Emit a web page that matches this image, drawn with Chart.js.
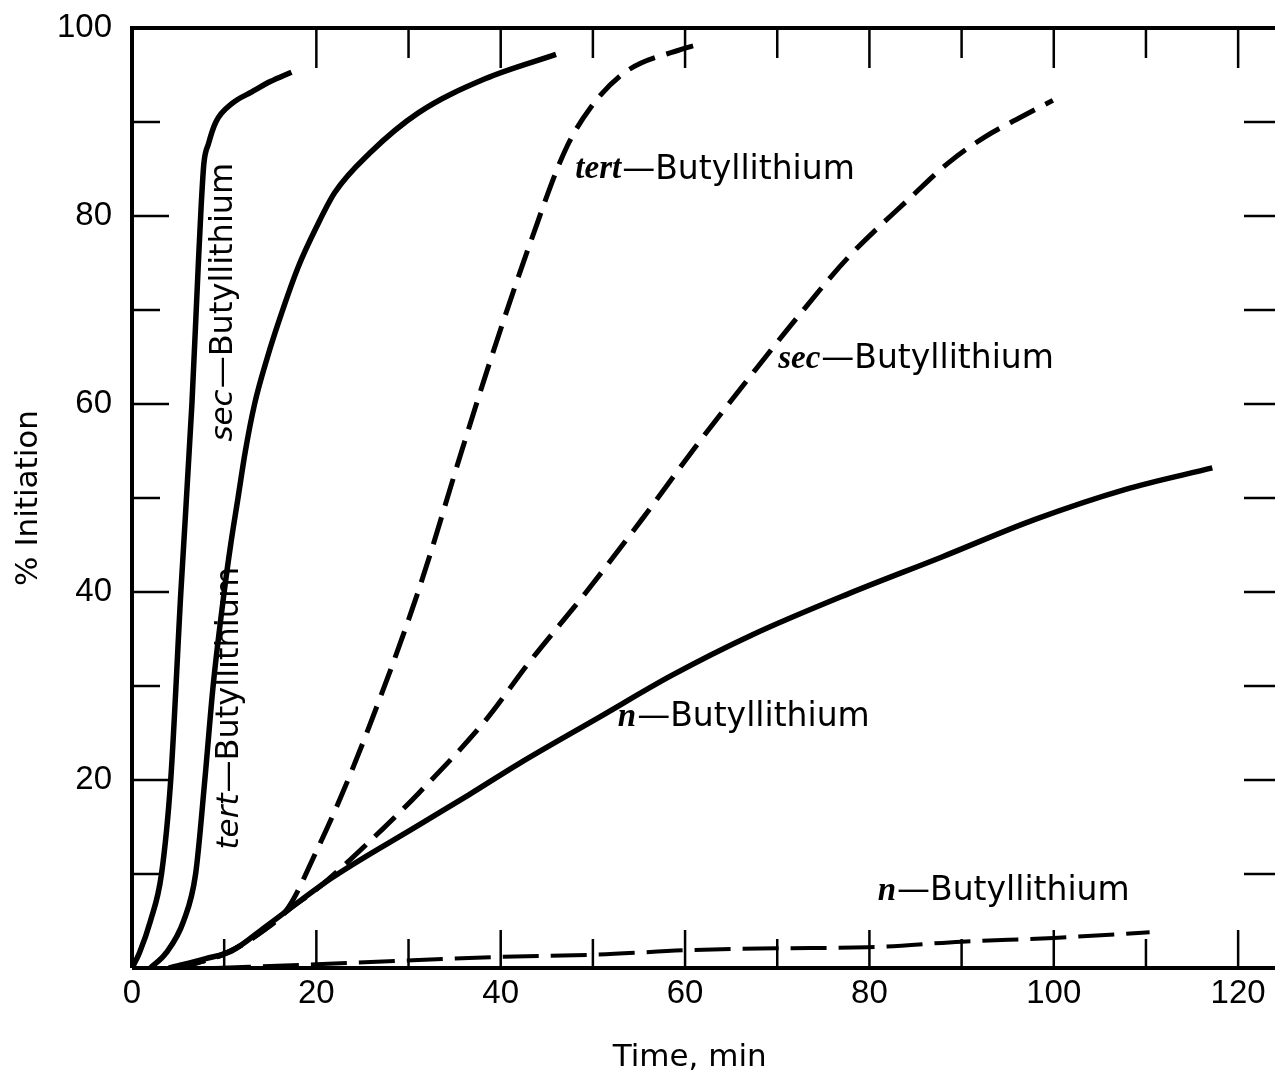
<!DOCTYPE html>
<html>
<head>
<meta charset="utf-8">
<script src="https://cdn.jsdelivr.net/npm/chart.js@4.4.0/dist/chart.umd.min.js"></script>
<style>
  html, body { margin: 0; padding: 0; background: #fff; }
  #wrap { position: relative; width: 1275px; height: 1079px; }
</style>
</head>
<body>
<div id="wrap"><canvas id="chart"></canvas></div>
<script>
// values: time in min, initiation in %
const secFastTime = [0, 0.8, 2, 3.2, 4.2, 5.3, 6.5, 7.2, 7.5, 7.8, 8.3, 9.1, 10.9, 13, 15, 17.3];
const secFastPct  = [0, 1.6, 5, 10, 20, 40, 60, 75, 81, 85.6, 87.7, 90, 92, 93.2, 94.3, 95.3];

const tertFastTime = [2, 3.7, 5.6, 6.9, 7.9, 8.8, 10, 10.7, 11.5, 12.3, 13.3, 14.7, 16, 18, 20, 22, 25.8, 31.1, 38.3, 46];
const tertFastPct  = [0, 1.6, 5, 10, 20, 30, 40, 45, 50, 55, 60, 65, 69, 74.5, 78.8, 82.5, 86.7, 91, 94.6, 97.2];

const tertSlowTime = [5, 10, 14, 17, 19.9, 22.4, 25.7, 31.1, 35.8, 38.9, 43.3, 47, 49.8, 53.5, 59.5, 62];
const tertSlowPct  = [0, 1.5, 3.8, 6.5, 12.2, 17.6, 25.6, 40.2, 55.1, 64.7, 77.4, 87, 91.6, 95.3, 97.7, 98.4];

const secSlowTime = [5, 10, 14, 17, 20.3, 27.1, 31.1, 38.4, 43, 49.2, 55.3, 61.1, 67.6, 72, 77.7, 84.5, 88.5, 92.5, 96.4, 99.9];
const secSlowPct  = [0, 1.5, 3.8, 6.2, 8.6, 14.7, 18.6, 26.4, 32.4, 39.9, 47.7, 55.4, 63.6, 69, 75.6, 82, 85.6, 88.4, 90.5, 92.3];

const nFastTime = [4, 8, 10.8, 14.5, 21.7, 31.1, 36.5, 41.9, 50.9, 58.5, 67.2, 77.7, 87.8, 97.9, 107.7, 117.2];
const nFastPct  = [0, 1, 1.8, 4.4, 9.6, 15.2, 18.4, 21.7, 26.8, 31.1, 35.4, 39.8, 43.7, 47.7, 50.9, 53.2];

const nSlowTime = [9, 20, 31.1, 40.3, 50, 60.3, 70, 79.8, 90, 100, 110.4];
const nSlowPct  = [0, 0.4, 0.85, 1.2, 1.4, 1.9, 2.1, 2.2, 2.8, 3.2, 3.8];

const xTicks = [0, 20, 40, 60, 80, 100, 120];
const yTicks = [20, 40, 60, 80, 100];

// curve labels: prefix, anchor time, anchor %, rotated or not
const tagPrefix = ['sec', 'tert', 'tert', 'sec', 'n', 'n'];
const tagTime   = [10.0, 10.6, 48.1, 70.1, 52.7, 80.9];
const tagPct    = [56.0, 12.6, 84.9, 64.7, 26.7, 8.1];
const tagUpright = [true, true, false, false, false, false];

const labelFont = '33px "DejaVu Sans"';

function pts(xs, ys) {
    return xs.map((x, i) => ({ x: x, y: ys[i] }));
}

function curve(xs, ys, dash, width) {
    return {
        data: pts(xs, ys),
        borderColor: '#000',
        borderWidth: width,
        borderDash: dash,
        borderCapStyle: 'butt',
        cubicInterpolationMode: 'monotone',
        pointRadius: 0,
        fill: false
    };
}

const framePlugin = {
    id: 'frame',
    afterDatasetsDraw(chart) {
        const ctx = chart.ctx;
        const a = chart.chartArea;
        const xs = chart.scales.x;
        const ys = chart.scales.y;
        ctx.save();
        ctx.strokeStyle = '#000';
        ctx.lineWidth = 4;
        ctx.beginPath();
        ctx.moveTo(a.left, a.bottom);
        ctx.lineTo(a.left, a.top);
        ctx.lineTo(a.right, a.top);
        ctx.moveTo(a.left, a.bottom);
        ctx.lineTo(a.right, a.bottom);
        ctx.stroke();

        // inward ticks every 10 units
        ctx.lineWidth = 2.5;
        ctx.beginPath();
        for (let v = 10; v < 100; v += 10) {
            const py = ys.getPixelForValue(v);
            const len = v % 20 === 0 ? 37 : 28;
            ctx.moveTo(a.left, py);
            ctx.lineTo(a.left + len, py);
            ctx.moveTo(a.right, py);
            ctx.lineTo(a.right - 31, py);
        }
        for (let v = 10; v <= 120; v += 10) {
            const px = xs.getPixelForValue(v);
            const len = v % 20 === 0 ? 38 : 29;
            ctx.moveTo(px, a.bottom);
            ctx.lineTo(px, a.bottom - len);
            if (v >= 20) {
                ctx.moveTo(px, a.top);
                ctx.lineTo(px, a.top + (v % 20 === 0 ? 40 : 30));
            }
        }
        ctx.stroke();

        // x axis title, sitting a little left of the plot centre as in the original
        ctx.fillStyle = '#000';
        ctx.font = '31px "DejaVu Sans"';
        ctx.textAlign = 'center';
        ctx.textBaseline = 'middle';
        ctx.fillText('Time, min', xs.getPixelForValue(60.5), 1058);
        ctx.restore();
    }
};

const tagPlugin = {
    id: 'tags',
    afterDatasetsDraw(chart) {
        const ctx = chart.ctx;
        const xs = chart.scales.x;
        const ys = chart.scales.y;
        ctx.save();
        ctx.fillStyle = '#000';
        ctx.textBaseline = 'middle';
        ctx.textAlign = 'left';
        for (let i = 0; i < tagPrefix.length; i++) {
            const px = xs.getPixelForValue(tagTime[i]);
            const py = ys.getPixelForValue(tagPct[i]);
            ctx.save();
            ctx.translate(px, py);
            if (tagUpright[i]) {
                ctx.rotate(-Math.PI / 2);
                ctx.font = 'oblique 31px "DejaVu Sans"';
            } else {
                ctx.font = 'italic bold 33px "Liberation Serif"';
            }
            ctx.fillText(tagPrefix[i], 0, 0);
            const w = ctx.measureText(tagPrefix[i]).width;
            ctx.font = tagUpright[i] ? '32px "DejaVu Sans"' : labelFont;
            ctx.fillText('\u2014Butyllithium', w + 1, 0);
            ctx.restore();
        }
        ctx.restore();
    }
};

new Chart(document.getElementById('chart'), {
    type: 'line',
    data: {
        datasets: [
            curve(secFastTime, secFastPct, [], 5.5),
            curve(tertFastTime, tertFastPct, [], 5.5),
            curve(tertSlowTime, tertSlowPct, [28, 12], 5),
            curve(secSlowTime, secSlowPct, [28, 12], 5),
            curve(nFastTime, nFastPct, [], 5.5),
            curve(nSlowTime, nSlowPct, [36, 12], 4)
        ]
    },
    options: {
        responsive: true,
        maintainAspectRatio: false,
        animation: false,
        layout: { padding: { top: 28, right: 0, bottom: 0, left: 0 } },
        plugins: {
            legend: { display: false },
            tooltip: { enabled: false }
        },
        scales: {
            x: {
                type: 'linear',
                min: 0,
                max: 124,
                grid: { display: false, drawTicks: false },
                border: { display: false },
                afterBuildTicks: s => { s.ticks = xTicks.map(v => ({ value: v })); },
                ticks: {
                    padding: 6,
                    color: '#000',
                    font: { family: 'Liberation Sans', size: 33 }
                },
                afterFit: s => {
                    s.height = 111;
                    s.paddingLeft = 0;
                    s.paddingRight = 0;
                }
            },
            y: {
                min: 0,
                max: 100,
                grid: { display: false, drawTicks: false },
                border: { display: false },
                afterBuildTicks: s => { s.ticks = yTicks.map(v => ({ value: v })); },
                ticks: {
                    padding: 20,
                    color: '#000',
                    font: { family: 'Liberation Sans', size: 33 }
                },
                title: {
                    display: true,
                    text: '% Initiation',
                    color: '#000',
                    padding: { top: 10, bottom: 0 },
                    font: { family: 'DejaVu Sans', size: 31 }
                },
                afterFit: s => {
                    s.width = 132;
                    s.paddingTop = 0;
                    s.paddingBottom = 0;
                }
            }
        }
    },
    plugins: [framePlugin, tagPlugin]
});
</script>
</body>
</html>
